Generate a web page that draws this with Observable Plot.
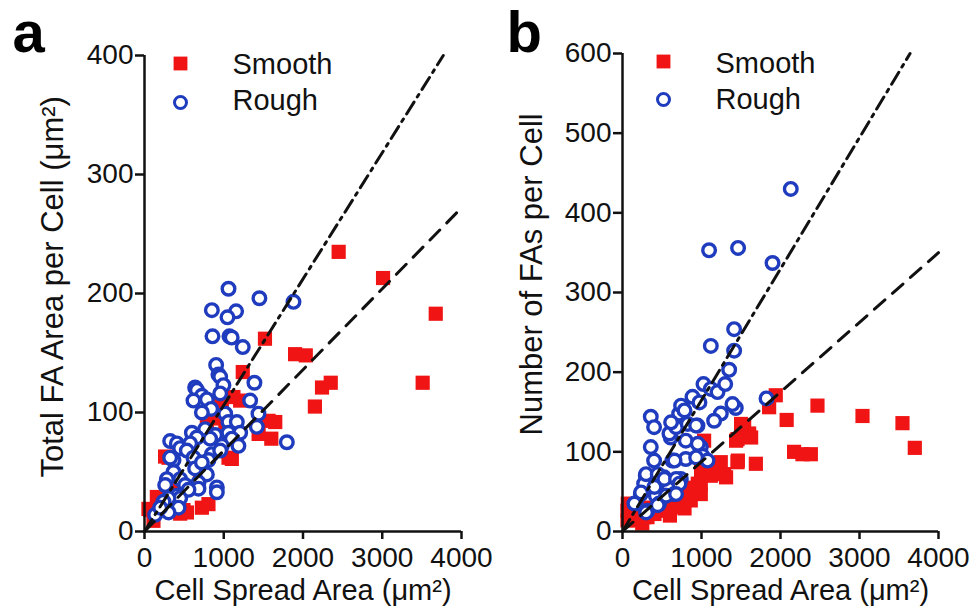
<!DOCTYPE html>
<html>
<head>
<meta charset="utf-8">
<script src="https://cdn.jsdelivr.net/npm/d3@7"></script>
<script src="https://cdn.jsdelivr.net/npm/@observablehq/plot@0.6"></script>
<style>
  html, body { margin: 0; padding: 0; background: #fff; }
  #wrap { position: relative; width: 976px; height: 615px; overflow: hidden; background: #fff; }
  #pa, #pb { position: absolute; top: 0; }
  #pa { left: 0; }
  #pb { left: 488px; }
</style>
</head>
<body>
<div id="wrap"><div id="pa"></div><div id="pb"></div></div>
<script>
// ---- data ----
const seriesNames = ["Smooth", "Rough"];
const xTicks = [0, 1000, 2000, 3000, 4000];
const yTicksA = [0, 100, 200, 300, 400];
const yTicksB = [0, 100, 200, 300, 400, 500, 600];
const xTitle = "Cell Spread Area (μm²)";
const yTitleA = "Total FA Area per Cell (μm²)";
const yTitleB = "Number of FAs per Cell";

// Panel a: [cell spread area, total FA area]
const smoothA = [
  [2450,235],[3010,213],[3675,183],[3510,125],[1520,162],[1900,149],[2035,148],
  [1240,134],[2240,121],[2350,125],[2150,105],[1207,110],[1122,113],[1650,92],
  [1565,93],[1600,78],[1440,82],[1102,61],[1060,62],[976,106],[955,107],[787,89],
  [880,95],[1020,85],[700,50],[400,40],[724,20],[807,23],[492,18],[303,62],[260,63],
  [72,18],[50,19],[113,9],[156,29],[535,16],[450,15]
];
const roughA = [
  [1060,204],[1450,196],[1880,193],[850,186],[1156,185],[1047,180],[858,164],
  [1072,164],[1100,163],[1240,155],[904,140],[933,132],[955,130],[1387,125],[639,121],
  [661,119],[996,123],[955,116],[724,114],[787,111],[618,110],[1333,110],[1438,99],
  [1417,88],[1796,75],[841,103],[724,100],[1018,99],[1059,92],[1165,92],[892,81],
  [1059,83],[1207,83],[1102,78],[1185,72],[765,86],[598,83],[661,79],[324,76],
  [408,74],[450,70],[366,60],[324,62],[576,74],[534,68],[828,78],[850,65],[807,60],
  [976,72],[955,68],[618,62],[639,53],[724,58],[787,48],[366,50],[282,44],[261,39],
  [450,44],[513,39],[913,37],[913,33],[681,41],[681,36],[555,35],[408,30],[450,28],
  [303,28],[240,25],[429,20],[303,16],[135,14],[198,20]
];
// Panel b: [cell spread area, number of FAs]
const smoothB = [
  [1940,171],[1856,156],[2078,140],[2468,158],[3038,145],[3544,136],[3700,105],
  [2172,100],[2278,97],[2384,97],[1540,133],[1603,123],[1456,116],[1688,85],[1456,87],
  [1244,87],[1286,72],[1033,114],[1118,70],[991,60],[991,47],[759,31],[822,51],
  [864,39],[611,35],[485,26],[147,22],[63,26],[63,14],[190,18],[316,18],[1076,77],
  [1501,135],[1628,118],[1438,114],[1460,89],[1311,68],[1122,85],[995,77],[953,60],
  [869,51],[974,49],[826,43],[742,31],[785,29],[578,31],[658,35],[405,22],[277,18],
  [67,35],[151,14],[350,30],[500,40],[700,45],[900,55],[250,10],[600,20]
];
const roughB = [
  [2130,430],[1096,353],[1463,356],[1899,337],[1413,254],[1118,233],[1413,227],
  [1350,203],[1025,185],[1118,179],[1203,175],[1300,185],[886,169],[1823,167],
  [1434,155],[1392,160],[1245,148],[1160,139],[759,156],[717,148],[949,133],[358,144],
  [400,131],[611,118],[801,114],[358,106],[400,89],[632,89],[801,91],[991,106],
  [1012,95],[1076,89],[295,70],[274,60],[527,68],[442,60],[738,66],[548,45],[422,45],
  [232,47],[169,35],[316,26],[463,35],[653,47],[742,158],[785,152],[974,162],[594,123],
  [678,131],[615,137],[826,135],[932,133],[953,110],[658,89],[932,93],[298,72],
  [446,72],[530,66],[678,66],[721,60],[235,49],[405,56],[552,45],[678,47],[151,35],
  [298,24],[446,33]
];
// reference lines (end points)
const dashDotA = [[0,0],[3770,400]];
const dashedA  = [[0,0],[4000,272]];
const dashDotB = [[0,0],[3640,600]];
const dashedB  = [[0,0],[4000,350]];

// ---- styling ----
const RED = "#f01414", BLUE = "#1f3cbe", INK = "#111";
const FONT = "'Liberation Sans', Arial, Helvetica, sans-serif";

function panel(cfg) {
  const X = d => d[0], Y = d => d[1];
  return Plot.plot({
    width: 488, height: 615,
    marginLeft: cfg.ml, marginRight: cfg.mr, marginTop: cfg.mt, marginBottom: 84,
    style: {fontFamily: FONT, overflow: "visible", background: "transparent", color: INK},
    x: {domain: [0, 4000]},
    y: {domain: cfg.yDomain},
    marks: [
      Plot.dot(cfg.smooth, {x: X, y: Y, symbol: "square", r: 8, fill: RED, stroke: "none"}),
      Plot.dot(cfg.rough, {x: X, y: Y, r: 6.3, fill: "white", stroke: BLUE, strokeWidth: 3.4}),
      Plot.line(cfg.dashDot, {x: X, y: Y, stroke: INK, strokeWidth: 3, strokeDasharray: "14,6,3,6"}),
      Plot.line(cfg.dashed, {x: X, y: Y, stroke: INK, strokeWidth: 3, strokeDasharray: "14,10"}),
      Plot.ruleX([0], {stroke: INK, strokeWidth: 2.5}),
      Plot.ruleY([0], {stroke: INK, strokeWidth: 2.5}),
      Plot.axisX({ticks: xTicks, tickFormat: d => String(d), tickSize: 8, tickPadding: 8,
        fontSize: 28, strokeWidth: 2.5, label: null}),
      Plot.axisY({ticks: cfg.yTicks, tickFormat: d => String(d), tickSize: 9, tickPadding: 2,
        fontSize: 28, strokeWidth: 2.5, label: null}),
      // axis titles
      Plot.text([xTitle], {frameAnchor: "bottom", text: d => d, dy: 59, fontSize: 29,
        textAnchor: "middle", lineAnchor: "middle", fill: INK}),
      Plot.text([cfg.yTitle], {frameAnchor: "bottom-left", text: d => d, rotate: -90, dx: cfg.ytDx, dy: cfg.ytDy,
        fontSize: 31, textAnchor: "start", lineAnchor: "middle", fill: INK}),
      // legend
      Plot.dot([seriesNames[0]], {frameAnchor: "top-left", dx: cfg.lgDx, dy: 8, symbol: "square", r: 7.8, fill: RED, stroke: "none"}),
      Plot.dot([seriesNames[1]], {frameAnchor: "top-left", dx: cfg.lgDx, dy: cfg.lgDy2, r: 6, fill: "white", stroke: BLUE, strokeWidth: 3}),
      Plot.text([seriesNames[0]], {frameAnchor: "top-left", text: d => d, dx: cfg.lgTx, dy: cfg.lgTy1,
        fontSize: 29, textAnchor: "start", lineAnchor: "middle", fill: INK}),
      Plot.text([seriesNames[1]], {frameAnchor: "top-left", text: d => d, dx: cfg.lgTx, dy: cfg.lgTy2,
        fontSize: 29, textAnchor: "start", lineAnchor: "middle", fill: INK}),
      // panel letter
      Plot.text([cfg.letter], {frameAnchor: "top-left", text: d => d, dx: cfg.letDx, dy: cfg.letDy,
        fontSize: 58, fontWeight: "bold", textAnchor: "start", lineAnchor: "middle", fill: "#000"})
    ]
  });
}

document.getElementById("pa").appendChild(panel({
  ml: 144, mr: 27, mt: 55, yDomain: [0, 400], yTicks: yTicksA,
  smooth: smoothA, rough: roughA, dashDot: dashDotA, dashed: dashedA,
  yTitle: yTitleA, ytDx: -91, ytDy: -54,
  lgDx: 36, lgDy2: 47, lgTx: 88, lgTy1: 9, lgTy2: 45,
  letter: "a", letDx: -132, letDy: -22
}));
document.getElementById("pb").appendChild(panel({
  ml: 134, mr: 38, mt: 53, yDomain: [0, 600], yTicks: yTicksB,
  smooth: smoothB, rough: roughB, dashDot: dashDotB, dashed: dashedB,
  yTitle: yTitleB, ytDx: -90, ytDy: -96,
  lgDx: 41, lgDy2: 46, lgTx: 93, lgTy1: 10, lgTy2: 46,
  letter: "b", letDx: -116, letDy: -20
}));
</script>
</body>
</html>
